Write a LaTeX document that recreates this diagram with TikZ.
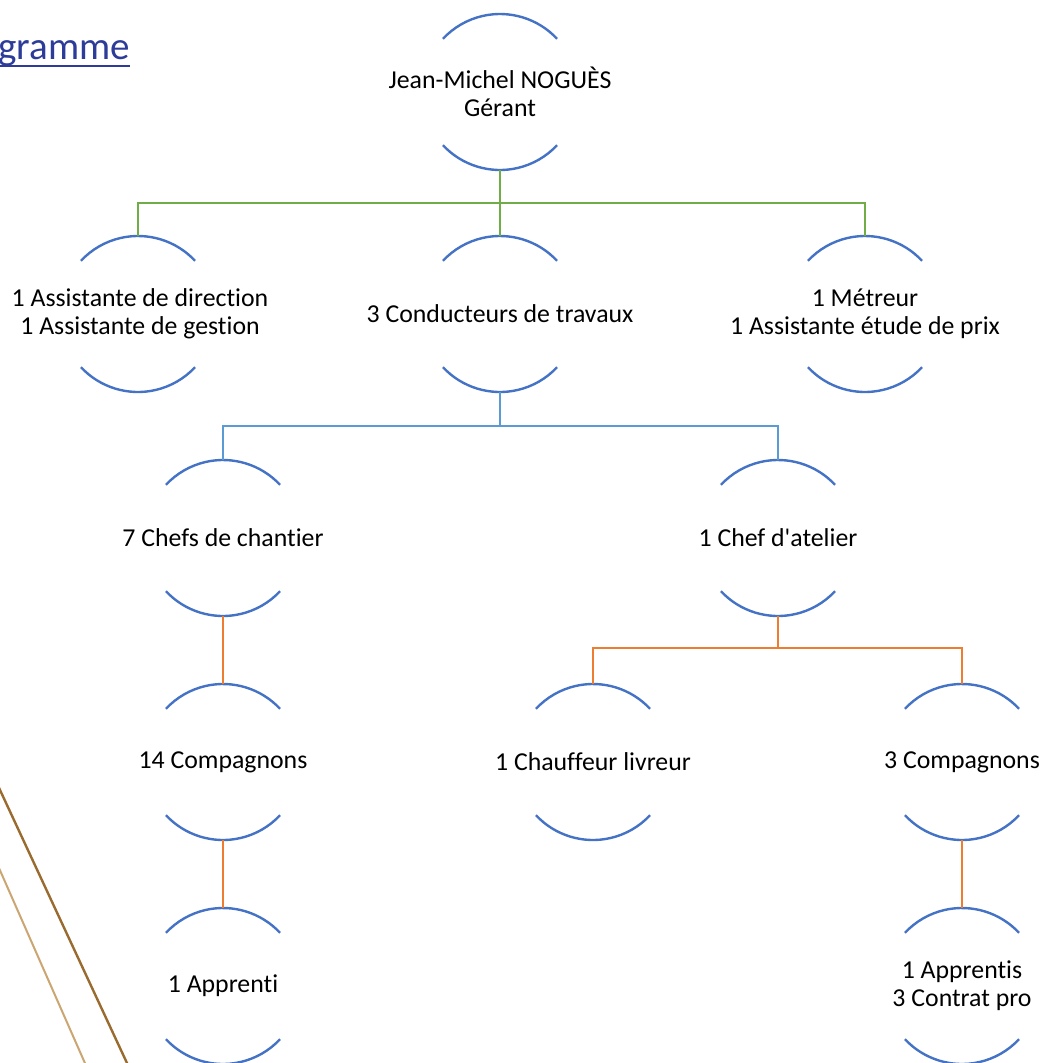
\documentclass[tikz,border=0pt]{standalone}
\usepackage{fontspec}
\setmainfont{Carlito}[Ligatures={TeXOff,NoCommon}]
\definecolor{arcblue}{HTML}{4472C4}
\definecolor{lgreen}{HTML}{70AD47}
\definecolor{lblue}{HTML}{5B9BD5}
\definecolor{lorange}{HTML}{ED7D31}
\definecolor{titleblue}{HTML}{2D3C99}
\definecolor{darkgold}{HTML}{9A6B2F}
\definecolor{lightgold}{HTML}{CBA672}
\newcommand\twoarcs[1]{%
  \draw[arcst] (#1.43) arc[start angle=43,end angle=137,radius=78pt];
  \draw[arcst] (#1.223) arc[start angle=223,end angle=317,radius=78pt];}
\begin{document}
\begin{tikzpicture}[x=1pt,y=1pt,
  circ/.style={circle,draw=none,minimum size=156pt,inner sep=0pt,outer sep=0pt},
  txt/.style={align=center,inner sep=0pt,font=\fontsize{25.8}{28}\selectfont},
  arcst/.style={arcblue,line width=2.4pt},
  gline/.style={lgreen,line width=2.2pt},
  bline/.style={lblue,line width=2.2pt},
  oline/.style={lorange,line width=2.2pt}]
\useasboundingbox (0,0) rectangle (1045,-1063);
\clip (0,0) rectangle (1045,-1063);
% decorative diagonal lines
\draw[darkgold,line width=2.4pt] (-10,-768.5) -- (130,-1069.5);
\draw[lightgold,line width=2pt] (-5,-859) -- (88,-1070);
% title
\node[anchor=base east,inner sep=0pt,text=titleblue,font=\fontsize{39}{40}\selectfont] (title) at (130,-59) {gramme};
\draw[titleblue,line width=1.5pt] (0,-66) -- (title.east |- 0,-66);
% nodes
\node[circ] (top) at (500,-92) {};
\node[circ] (l2a) at (138,-314) {};
\node[circ] (l2b) at (500,-314) {};
\node[circ] (l2c) at (865,-314) {};
\node[circ] (l3a) at (223,-538) {};
\node[circ] (l3b) at (778,-538) {};
\node[circ] (l4a) at (223,-762) {};
\node[circ] (l4b) at (593,-762) {};
\node[circ] (l4c) at (962,-762) {};
\node[circ] (l5a) at (223,-986) {};
\node[circ] (l5b) at (962,-986) {};
\foreach \n in {top,l2a,l2b,l2c,l3a,l3b,l4a,l4b,l4c,l5a,l5b}{\twoarcs{\n}}
% texts
\node[txt] (top-t) at (top) {Jean-Michel NOGUÈS\\Gérant};
\node[txt] (l2a-t) at ([xshift=2pt]l2a.center) {1 Assistante de direction\\1 Assistante de gestion};
\node[txt] (l2b-t) at (l2b) {3 Conducteurs de travaux};
\node[txt] (l2c-t) at (l2c) {1 Métreur\\1 Assistante étude de prix};
\node[txt] (l3a-t) at (l3a) {7 Chefs de chantier};
\node[txt] (l3b-t) at (l3b) {1 Chef d'atelier};
\node[txt] (l4a-t) at (l4a) {14 Compagnons};
\node[txt] (l4b-t) at (l4b) {1 Chauffeur livreur};
\node[txt] (l4c-t) at (l4c) {3 Compagnons};
\node[txt] (l5a-t) at (l5a) {1 Apprenti};
\node[txt] (l5b-t) at (l5b) {1 Apprentis\\3 Contrat pro};
% connectors
\draw[gline] (top.south) -- ++(0,-33) -| (l2a.north);
\draw[gline] (top.south) -- ++(0,-33) -| (l2c.north);
\draw[gline] (top.south) -- (l2b.north);
\draw[bline] (l2b.south) -- ++(0,-34) -| (l3a.north);
\draw[bline] (l2b.south) -- ++(0,-34) -| (l3b.north);
\draw[oline] (l3a.south) -- (l4a.north);
\draw[oline] (l3b.south) -- ++(0,-32) -| (l4b.north);
\draw[oline] (l3b.south) -- ++(0,-32) -| (l4c.north);
\draw[oline] (l4a.south) -- (l5a.north);
\draw[oline] (l4c.south) -- (l5b.north);
\end{tikzpicture}
\end{document}
